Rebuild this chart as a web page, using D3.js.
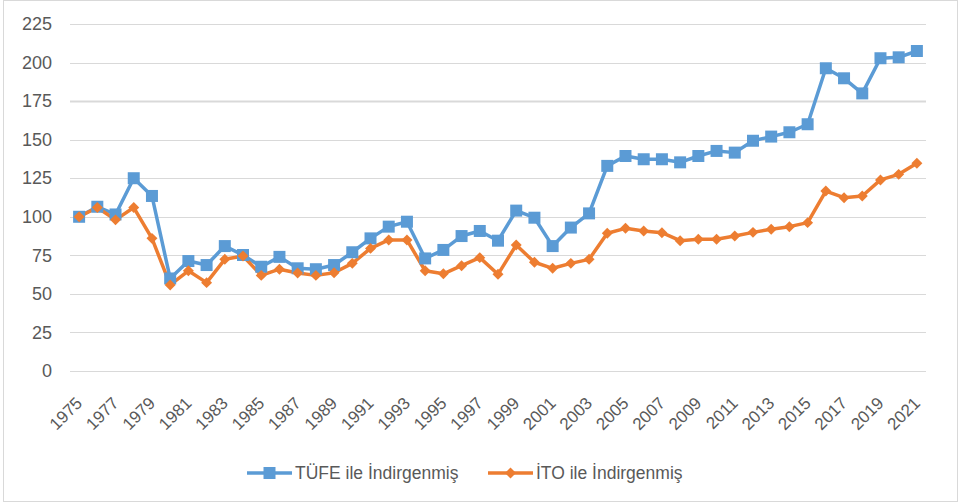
<!DOCTYPE html>
<html><head><meta charset="utf-8">
<script src="https://cdn.jsdelivr.net/npm/d3@7"></script>
<style>
html,body{margin:0;padding:0;background:#fff;}
svg{display:block;}
text{font-family:"Liberation Sans",Arial,sans-serif;fill:#595959;}
</style></head>
<body>
<svg id="chart" width="963" height="503"></svg>
<script>
const years = d3.range(1975, 2022);
const tufe = [100,106.5,101.5,125,113.5,60,71.3,68.7,81,75.2,67.6,74,66.6,66,68.7,77,86,93.6,96.8,73,78.5,87.5,90.8,84.5,104,99.4,81,93,102.2,133,139.4,137.3,137.3,135.3,139.4,142.7,141.6,149.3,152,154.8,160,196.3,189.8,180,202.8,203.4,207.5];
const ito  = [100,106,98,106,86,55.8,65,57.3,72.4,74.6,62,66,63.5,62,63.7,69.8,79.5,85,85,65,63,68.3,73.5,62.7,81.7,70.5,66.6,69.8,72.4,89.3,92.5,90.8,89.7,84.5,85.4,85.4,87.5,89.9,91.9,93.6,96.2,116.7,112.4,113.5,123.9,127.5,134.7];
const yTicks = [0,25,50,75,100,125,150,175,200,225];
const seriesNames = ["TÜFE ile İndirgenmiş","İTO ile İndirgenmiş"];
const colors = ["#5B9BD5","#ED7D31"];

const svg = d3.select("#chart");
svg.append("rect").attr("x",3.5).attr("y",0.5).attr("width",954).attr("height",501)
  .attr("fill","none").attr("stroke","#d9d9d9").attr("stroke-width",1);

const pLeft=70, pRight=926, pTop=24, pBottom=371;
const x = d3.scaleBand().domain(years).range([pLeft,pRight]);
const y = d3.scaleLinear().domain([0,225]).range([pBottom,pTop]);
const cx = d => x(d) + x.bandwidth()/2;

svg.append("g").selectAll("line").data(yTicks).join("line")
  .attr("x1",pLeft).attr("x2",pRight)
  .attr("y1",d=>Math.round(y(d))+0.5).attr("y2",d=>Math.round(y(d))+0.5)
  .attr("stroke","#d9d9d9").attr("stroke-width",d=>d===175?2:1);

const yAxis = d3.axisLeft(y).tickValues(yTicks).tickSize(0).tickPadding(0);
const gy = svg.append("g").attr("transform",`translate(52,0)`).call(yAxis);
gy.select(".domain").remove();
gy.selectAll("text").attr("font-size","18px").attr("fill","#595959")
  .attr("font-family","Liberation Sans, Arial, sans-serif");

const xAxis = d3.axisBottom(x).tickValues(years.filter(d=>(d-1975)%2===0)).tickSize(0).tickPadding(0);
const gx = svg.append("g").attr("transform",`translate(0,${pBottom})`).call(xAxis);
gx.select(".domain").remove();
gx.selectAll("text").attr("font-size","17px").attr("fill","#595959")
  .attr("font-family","Liberation Sans, Arial, sans-serif")
  .attr("text-anchor","end").attr("dy","0.35em")
  .attr("transform","translate(0,29) rotate(-45)");

const data = [tufe, ito];
const line = d3.line().x((d,i)=>cx(years[i])).y(d=>y(d));
data.forEach((s,k)=>{
  svg.append("path").datum(s).attr("d",line).attr("fill","none")
    .attr("stroke",colors[k]).attr("stroke-width",3.5).attr("stroke-linejoin","round");
});
const sq = d3.symbol().type(d3.symbolSquare).size(144);
const dm = d3.symbol().type(d3.symbolSquare).size(60);
svg.append("g").selectAll("path").data(tufe).join("path")
  .attr("d",sq()).attr("fill",colors[0])
  .attr("transform",(d,i)=>`translate(${cx(years[i])},${y(d)})`);
svg.append("g").selectAll("path").data(ito).join("path")
  .attr("d",dm()).attr("fill",colors[1])
  .attr("transform",(d,i)=>`translate(${cx(years[i])},${y(d)}) rotate(45)`);

const legY = 473;
const leg = [{x1:247,x2:292,tx:295,k:0},{x1:488,x2:533,tx:536,k:1}];
leg.forEach(l=>{
  svg.append("line").attr("x1",l.x1).attr("x2",l.x2).attr("y1",legY).attr("y2",legY)
    .attr("stroke",colors[l.k]).attr("stroke-width",3.5);
  const m = l.k===0 ? sq() : dm();
  svg.append("path").attr("d",m).attr("fill",colors[l.k])
    .attr("transform",`translate(${(l.x1+l.x2)/2},${legY})${l.k===1?" rotate(45)":""}`);
  svg.append("text").attr("x",l.tx).attr("y",legY).attr("dy","0.35em")
    .attr("font-size","17.5px").text(seriesNames[l.k]);
});
</script>
</body></html>
